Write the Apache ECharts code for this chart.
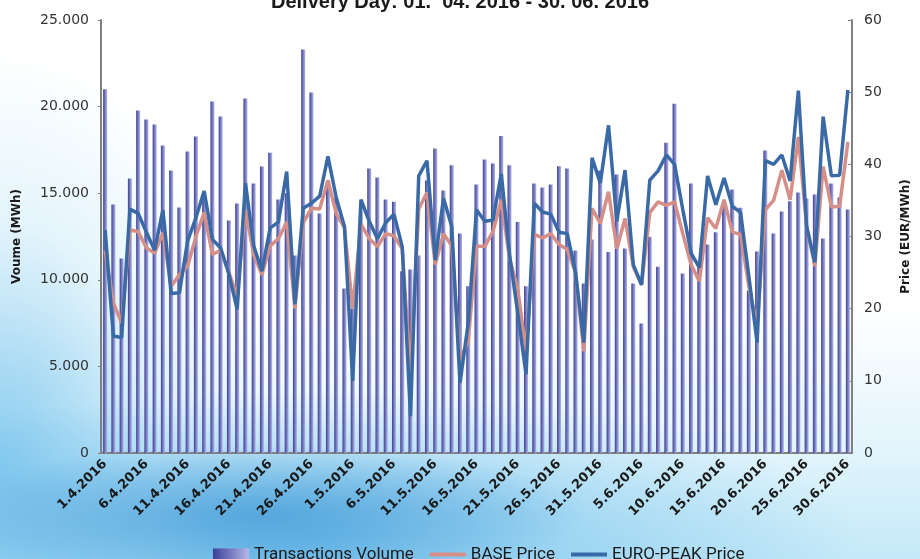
<!DOCTYPE html>
<html>
<head>
<meta charset="utf-8">
<script src="https://cdn.jsdelivr.net/npm/echarts@6/dist/echarts.min.js"></script>
<style>
  html, body { margin: 0; padding: 0; }
  body {
    width: 920px;
    height: 559px;
    overflow: hidden;
    background:
      radial-gradient(ellipse 330px 70px at 260px 515px, rgba(70,155,215,0.75), rgba(70,155,215,0) 100%),
      radial-gradient(ellipse 560px 150px at 300px 540px, rgba(110,190,235,0.9), rgba(150,210,240,0) 100%),
      radial-gradient(ellipse 260px 420px at 0px 470px, rgba(130,200,238,0.95), rgba(190,230,248,0.4) 60%, rgba(255,255,255,0) 100%),
      linear-gradient(to bottom, #ffffff 0%, #ffffff 55%, #e3f5fc 80%, #c4e9f8 100%);
  }
  #main { width: 920px; height: 559px; }
</style>
</head>
<body>
<div id="main"></div>
<script>
// delivery days 1.4.2016 - 30.6.2016
var months = [[4, 30], [5, 31], [6, 30]];
var days = [];
for (var m of months) {
  for (var d = 1; d <= m[1]; d++) {
    days.push(d + '.' + m[0] + '.2016');
  }
}

// transactions volume (MWh)
var volume = [
  21000, 14350, 11230, 15850, 19780, 19260, 18970, 17760, 16310, 14180,
  17410, 18280, 14800, 20300, 19430, 13420, 14410, 20470, 15560, 16540,
  17330, 14640, 15000, 11400, 23300, 20820, 13830, 15500, 14730, 9500,
  8340, 14000, 16430, 15910, 14640, 14500, 10500, 10590, 11400, 15740,
  17580, 15160, 16620, 12670, 9630, 15500, 16950, 16720, 18300, 16620,
  13330, 9630, 15560, 15330, 15500, 16560, 16430, 11690, 9780, 12330,
  16310, 11600, 16080, 11810, 9780, 7470, 12480, 10750, 17910, 20170,
  10360, 15560, 11000, 12040, 12750, 14500, 15220, 14160, 9380, 11630,
  17470, 12670, 13940, 14540, 15040, 14700, 14930, 12380, 15560, 14750,
  14060
];

// BASE price (EUR/MWh)
var basePrice = [
  28.0, 20.8, 18.0, 30.9, 30.7, 28.4, 27.7, 30.5, 23.1, 24.7,
  25.9, 30.0, 33.3, 27.5, 28.1, 25.0, 21.7, 33.7, 27.5, 24.7,
  28.7, 29.7, 32.0, 20.0, 31.9, 33.9, 33.8, 37.8, 33.2, 31.2,
  20.0, 31.7, 29.7, 28.6, 30.4, 30.1, 28.3, 11.0, 33.8, 36.1,
  26.1, 30.4, 28.7, 13.0, 15.5, 28.7, 28.6, 30.7, 35.1, 27.0,
  22.7, 14.1, 30.3, 29.8, 30.4, 28.9, 28.2, 25.0, 14.1, 33.9,
  31.8, 36.2, 28.3, 32.5, 25.8, 23.3, 33.3, 34.8, 34.3, 34.8,
  30.4, 26.1, 23.8, 32.6, 31.1, 35.1, 30.6, 30.3, 23.1, 17.6,
  33.7, 35.0, 39.2, 35.1, 43.8, 31.4, 25.9, 39.7, 34.1, 34.2,
  43.1
];

// EURO-PEAK price (EUR/MWh)
var peakPrice = [
  30.9, 16.2, 16.0, 33.8, 33.2, 30.6, 28.1, 33.7, 22.1, 22.2,
  29.4, 32.6, 36.3, 29.6, 28.4, 24.8, 19.9, 37.4, 28.7, 25.2,
  31.2, 32.0, 39.0, 20.6, 33.9, 34.6, 35.6, 41.1, 35.4, 31.4,
  10.0, 35.1, 32.1, 29.7, 31.9, 33.1, 28.6, 5.1, 38.4, 40.5,
  26.7, 35.3, 31.4, 9.7, 18.0, 33.7, 32.1, 32.3, 38.7, 27.5,
  19.4, 10.9, 34.6, 33.4, 33.1, 30.6, 30.4, 25.0, 15.3, 40.9,
  37.4, 45.4, 32.1, 39.2, 26.1, 23.3, 37.8, 39.1, 41.3, 40.0,
  33.7, 27.7, 25.7, 38.4, 34.4, 38.1, 34.2, 33.3, 24.5, 15.3,
  40.5, 40.0, 41.3, 37.7, 50.2, 31.4, 26.4, 46.6, 38.4, 38.5,
  50.3
];

var mychart = echarts.init(document.getElementById('main'));

var barColor = new echarts.graphic.LinearGradient(0, 0, 1, 0, [
  {offset: 0, color: '#3c3f96'},
  {offset: 1, color: '#b3b7e6'}
]);

var lineIcon = 'path://M0,0 L38,0 L38,4 L0,4 Z';

var option = {
  animation: false,
  title: {
    text: 'Delivery Day: 01.  04. 2016 - 30. 06. 2016',
    left: 'center',
    top: -13,
    textStyle: {
      fontFamily: 'Liberation Sans',
      fontWeight: 'bold',
      fontSize: 20,
      color: '#1a1a1a'
    }
  },
  legend: {
    left: 208,
    top: 541,
    itemWidth: 36,
    itemHeight: 12,
    itemGap: 16,
    textStyle: {
      fontFamily: 'Roboto',
      fontSize: 17,
      color: '#1a1a1a'
    },
    data: [
      {name: 'Transactions Volume', icon: 'rect'},
      {name: 'BASE Price', icon: lineIcon},
      {name: 'EURO-PEAK Price', icon: lineIcon}
    ]
  },
  grid: {
    left: 101,
    right: 60,
    top: 20,
    bottom: 106
  },
  xAxis: {
    type: 'category',
    data: days,
    boundaryGap: true,
    axisLine: {
      lineStyle: {color: '#808080', width: 2}
    },
    axisTick: {show: false},
    axisLabel: {
      interval: 4,
      rotate: 45,
      margin: 9,
      fontFamily: 'DejaVu Sans',
      fontWeight: 'bold',
      fontSize: 13,
      color: '#1a1a1a'
    }
  },
  yAxis: [
    {
      type: 'value',
      name: 'Voume (MWh)',
      nameLocation: 'middle',
      nameRotate: 90,
      nameGap: 78,
      nameTextStyle: {
        fontFamily: 'DejaVu Sans',
        fontWeight: 'bold',
        fontSize: 12,
        color: '#1a1a1a'
      },
      min: 0,
      max: 25000,
      interval: 5000,
      axisLine: {
        show: true,
        lineStyle: {color: '#808080', width: 2}
      },
      axisTick: {
        show: true,
        length: 3,
        lineStyle: {color: '#808080'}
      },
      splitLine: {show: false},
      axisLabel: {
        margin: 12,
        fontFamily: 'DejaVu Sans',
        fontSize: 14,
        color: '#333',
        formatter: function (val) {
          return String(val).replace(/\B(?=(\d{3})+(?!\d))/g, '.');
        }
      }
    },
    {
      type: 'value',
      name: 'Price (EUR/MWh)',
      nameLocation: 'middle',
      nameRotate: 90,
      nameGap: 48,
      nameTextStyle: {
        fontFamily: 'DejaVu Sans',
        fontWeight: 'bold',
        fontSize: 12,
        color: '#1a1a1a'
      },
      min: 0,
      max: 60,
      interval: 10,
      axisLine: {
        show: true,
        lineStyle: {color: '#808080', width: 2}
      },
      axisTick: {
        show: true,
        inside: true,
        length: 4,
        lineStyle: {color: '#808080'}
      },
      splitLine: {show: false},
      axisLabel: {
        margin: 12,
        fontFamily: 'DejaVu Sans',
        fontSize: 14,
        color: '#333'
      }
    }
  ],
  series: [
    {
      name: 'Transactions Volume',
      type: 'bar',
      yAxisIndex: 0,
      barWidth: 4,
      itemStyle: {color: barColor},
      data: volume
    },
    {
      name: 'BASE Price',
      type: 'line',
      yAxisIndex: 1,
      symbol: 'none',
      lineStyle: {color: '#d58f88', width: 3.5},
      itemStyle: {color: '#d58f88'},
      data: basePrice
    },
    {
      name: 'EURO-PEAK Price',
      type: 'line',
      yAxisIndex: 1,
      symbol: 'none',
      lineStyle: {color: '#3a6aa5', width: 3.5},
      itemStyle: {color: '#3a6aa5'},
      data: peakPrice
    }
  ]
};

mychart.setOption(option);
</script>
</body>
</html>
